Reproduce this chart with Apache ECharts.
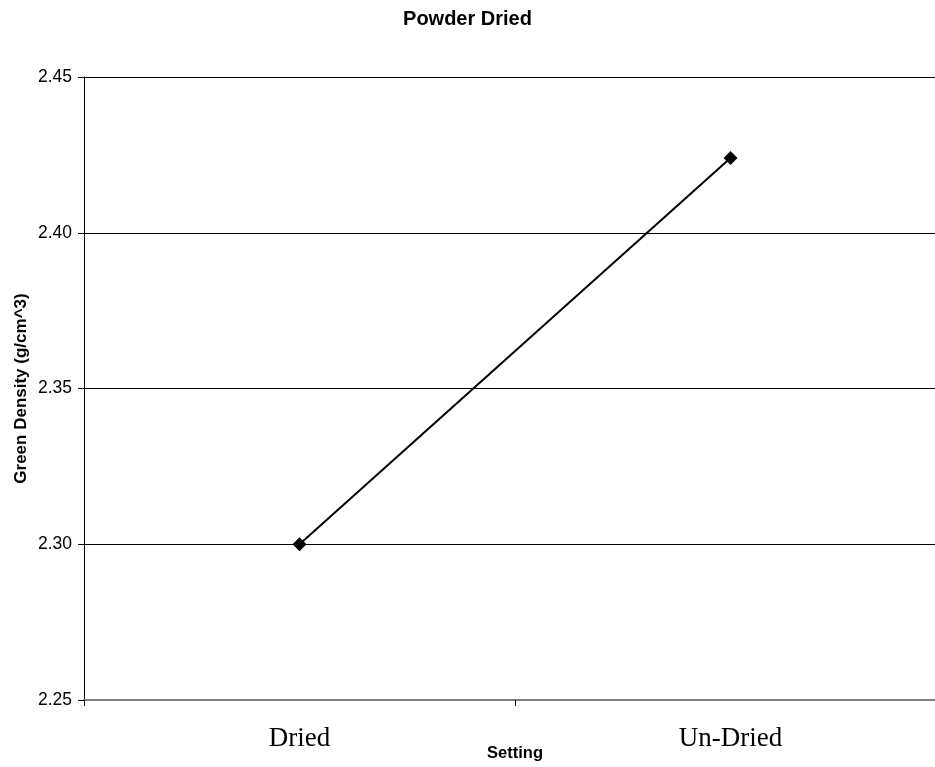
<!DOCTYPE html>
<html><head><meta charset="utf-8">
<script src="https://cdn.jsdelivr.net/npm/echarts@6/dist/echarts.min.js"></script>
<style>html,body{margin:0;padding:0;background:#fff;overflow:hidden}#c{width:935px;height:767px}</style>
</head><body><div id="c"></div>
<script>
const categories = ["Dried", "Un-Dried"];
const greenDensity = [2.300, 2.424];
const yTicks = {min: 2.25, max: 2.45, interval: 0.05};

const chart = echarts.init(document.getElementById('c'), null, {renderer: 'canvas'});
chart.setOption({
  animation: false,
  backgroundColor: '#ffffff',
  title: {
    text: 'Powder Dried', left: 'center', top: 4,
    textStyle: {fontFamily: 'Liberation Sans, Arial, sans-serif', fontWeight: 'bold', fontSize: 20, color: '#000'}
  },
  grid: {left: 84, width: 862, top: 77, bottom: 67, containLabel: false, outerBoundsMode: 'none'},
  xAxis: {
    type: 'category', data: categories, boundaryGap: true,
    name: 'Setting', nameLocation: 'middle', nameGap: 45, nameMoveOverlap: false,
    nameTextStyle: {fontFamily: 'Liberation Sans, Arial, sans-serif', fontWeight: 'bold', fontSize: 16.5, color: '#000'},
    axisLine: {lineStyle: {color: '#808080', width: 2}},
    axisTick: {show: true, length: 6, lineStyle: {color: '#000'}},
    axisLabel: {fontFamily: 'Liberation Serif, Times New Roman, serif', fontSize: 27, color: '#000', margin: 25},
    splitLine: {show: false}
  },
  yAxis: {
    type: 'value', min: yTicks.min, max: yTicks.max, interval: yTicks.interval,
    name: 'Green Density (g/cm^3)', nameLocation: 'middle', nameGap: 54, nameMoveOverlap: false,
    nameTextStyle: {fontFamily: 'Liberation Sans, Arial, sans-serif', fontWeight: 'bold', fontSize: 17, color: '#000'},
    axisLine: {show: true, lineStyle: {color: '#000', width: 1}},
    axisTick: {show: true, length: 6, lineStyle: {color: '#000'}},
    axisLabel: {fontFamily: 'Liberation Sans, Arial, sans-serif', fontSize: 17.5, color: '#000', margin: 12,
      formatter: v => v.toFixed(2)},
    splitLine: {show: true, lineStyle: {color: '#000', width: 1}}
  },
  series: [{
    type: 'line', data: greenDensity,
    symbol: 'diamond', symbolSize: 14,
    lineStyle: {color: '#000', width: 2},
    itemStyle: {color: '#000'}
  }]
});
</script></body></html>
